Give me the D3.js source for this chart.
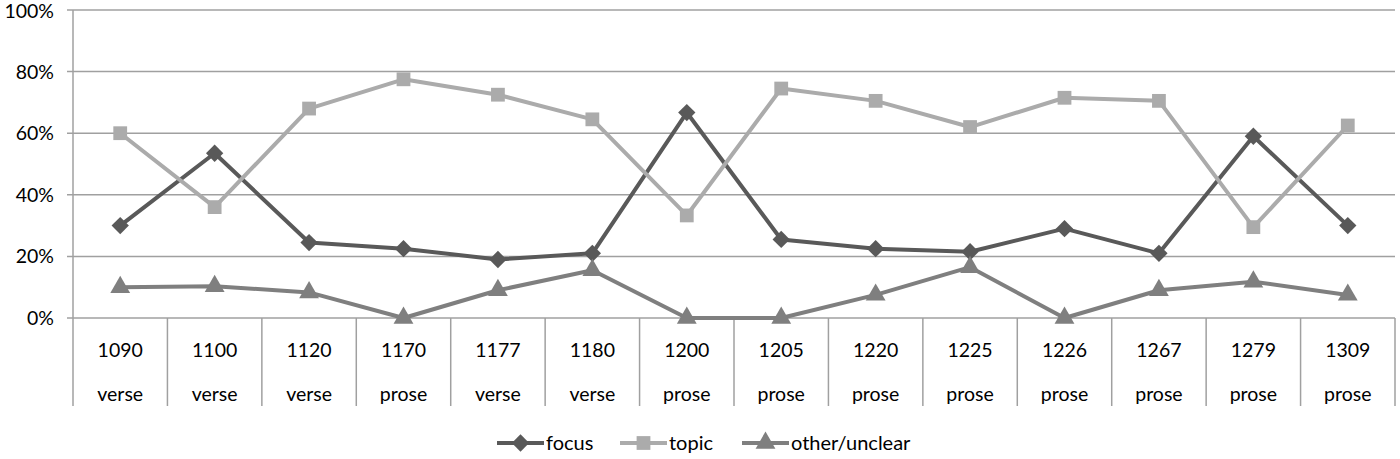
<!DOCTYPE html>
<html><head><meta charset="utf-8">
<script src="https://cdn.jsdelivr.net/npm/d3@7"></script>
<style>body{margin:0;background:#fff}svg{display:block}text{font-family:Lato,"Open Sans",sans-serif;fill:#000}</style>
</head><body><svg id="c" width="1400" height="459"></svg>
<script>
const years = ["1090","1100","1120","1170","1177","1180","1200","1205","1220","1225","1226","1267","1279","1309"];
const genres = ["verse","verse","verse","prose","verse","verse","prose","prose","prose","prose","prose","prose","prose","prose"];
const focus = [30,53.5,24.5,22.5,19,21,66.7,25.5,22.5,21.5,29,21,59,30];
const topic = [60,36,68,77.5,72.5,64.5,33.3,74.5,70.5,62,71.5,70.5,29.5,62.5];
const other = [10,10.3,8.3,0,9,15.5,0,0,7.5,16.5,0,9,11.8,7.5];
const yTicks = [0,20,40,60,80,100];
const seriesNames = ["focus","topic","other/unclear"];

const svg = d3.select("#c");
const L=73, R=1395, T=10, B=318, tableB=406;
const x = d3.scaleBand().domain(years).range([L,R]);
const y = d3.scaleLinear().domain([0,100]).range([B,T]);
const grid="#a0a0a0";

svg.append("g").selectAll("line").data(yTicks).join("line")
  .attr("x1",L-6).attr("x2",R).attr("y1",d=>y(d)).attr("y2",d=>y(d))
  .attr("stroke",grid).attr("stroke-width",1.5);
svg.append("g").selectAll("text").data(yTicks).join("text")
  .attr("x",L-19).attr("y",d=>y(d)+(d===100?1:0)).attr("dy","0.36em").attr("text-anchor","end")
  .attr("font-size",19.5).text(d=>d+"%");
svg.append("line").attr("x1",L).attr("x2",L).attr("y1",T).attr("y2",tableB).attr("stroke",grid).attr("stroke-width",1.5);
svg.append("g").selectAll("line").data(years).join("line")
  .attr("x1",d=>x(d)+x.bandwidth()).attr("x2",d=>x(d)+x.bandwidth())
  .attr("y1",B).attr("y2",tableB).attr("stroke",grid).attr("stroke-width",1.5);
svg.append("g").selectAll("text").data(years).join("text")
  .attr("x",d=>x(d)+x.bandwidth()/2).attr("y",350).attr("dy","0.35em").attr("text-anchor","middle")
  .attr("font-size",19.5).text(d=>d);
svg.append("g").selectAll("text").data(genres).join("text")
  .attr("x",(d,i)=>x(years[i])+x.bandwidth()/2).attr("y",394).attr("dy","0.35em").attr("text-anchor","middle")
  .attr("font-size",19.5).text(d=>d);

const cx = i=>x(years[i])+x.bandwidth()/2;
const series = [
  {name:seriesNames[0], data:focus, color:"#595959", sym:d3.symbolSquare, size:150, rot:45},
  {name:seriesNames[1], data:topic, color:"#ababab", sym:d3.symbolSquare, size:190, rot:0},
  {name:seriesNames[2], data:other, color:"#7f7f7f", sym:d3.symbolTriangle, size:170, rot:0}
];
const line = d3.line().x((d,i)=>cx(i)).y(d=>y(d));
series.forEach(s=>{
  svg.append("path").attr("d",line(s.data)).attr("fill","none").attr("stroke",s.color).attr("stroke-width",4).attr("stroke-linejoin","round");
  svg.append("g").selectAll("path").data(s.data).join("path")
    .attr("transform",(d,i)=>`translate(${cx(i)},${y(d)}) rotate(${s.rot})`)
    .attr("d",d3.symbol().type(s.sym).size(s.size)).attr("fill",s.color);
});

const lx=[497,620,742];
series.forEach((s,k)=>{
  const g=svg.append("g").attr("transform",`translate(${lx[k]},443)`);
  g.append("line").attr("x1",0).attr("x2",47).attr("stroke",s.color).attr("stroke-width",4);
  g.append("path").attr("transform",`translate(23.5,0) rotate(${s.rot})`).attr("d",d3.symbol().type(s.sym).size(s.size)).attr("fill",s.color);
  g.append("text").attr("x",49).attr("dy","0.35em").attr("font-size",20).text(s.name);
});
</script></body></html>
